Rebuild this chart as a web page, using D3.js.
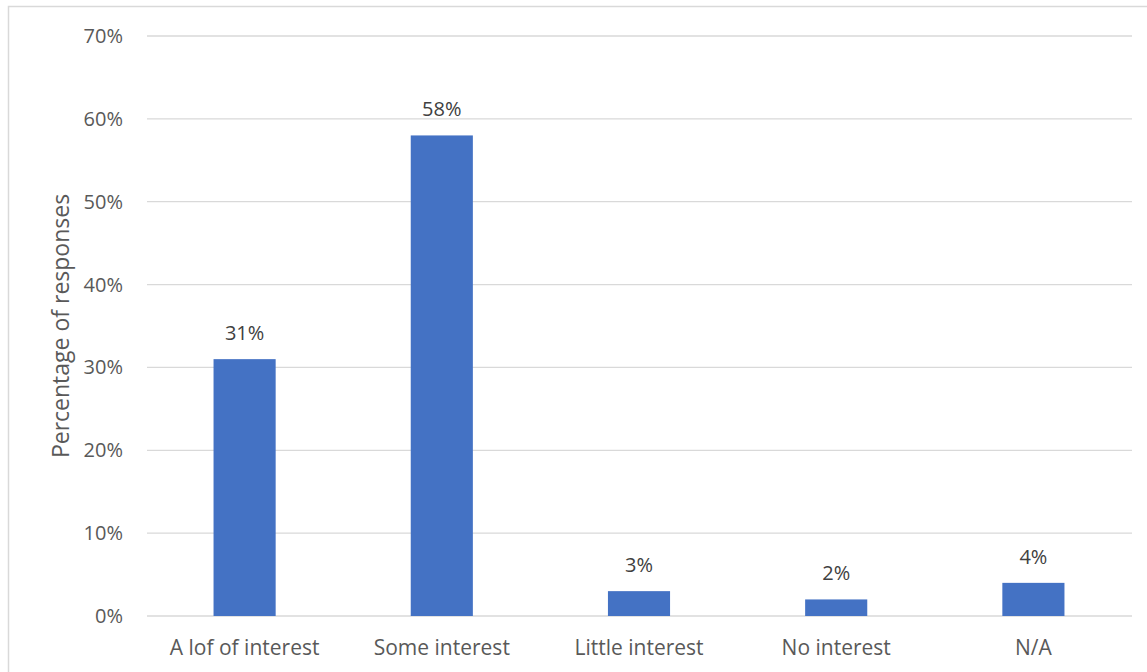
<!DOCTYPE html>
<html>
<head>
<meta charset="utf-8">
<script src="https://cdn.jsdelivr.net/npm/d3@7"></script>
<style>
  body { margin: 0; background: #fff; }
  svg { display: block; font-family: "Open Sans", "Liberation Sans", sans-serif; }
</style>
</head>
<body>
<svg id="chart" width="1147" height="672"></svg>
<script>
// Survey responses: level of interest
const categories = ["A lof of interest", "Some interest", "Little interest", "No interest", "N/A"];
const values = [31, 58, 3, 2, 4];
const yTicks = [0, 10, 20, 30, 40, 50, 60, 70];

const svg = d3.select("#chart");
const W = 1147, H = 672;
const plot = { left: 146, right: 1132, top: 36, bottom: 616 };

// Outer chart frame
svg.append("rect")
  .attr("x", 8.5).attr("y", 6.5)
  .attr("width", W + 10).attr("height", H + 10)
  .attr("fill", "none").attr("stroke", "#d9d9d9").attr("stroke-width", 1.5);

const x = d3.scaleBand().domain(categories).range([plot.left, plot.right]).paddingInner(0.685).paddingOuter(0.3425);
const y = d3.scaleLinear().domain([0, 70]).range([plot.bottom, plot.top]);

// Horizontal gridlines
svg.append("g").selectAll("line").data(yTicks).join("line")
  .attr("x1", plot.left + 1).attr("x2", plot.right)
  .attr("y1", d => y(d)).attr("y2", d => y(d))
  .attr("stroke", "#d9d9d9").attr("stroke-width", 1.3);

// Y tick labels
svg.append("g").selectAll("text").data(yTicks).join("text")
  .attr("x", 123).attr("y", d => y(d))
  .attr("dy", "0.35em")
  .attr("text-anchor", "end")
  .attr("font-size", 20).attr("fill", "#595959")
  .text(d => d + "%");

// Bars
svg.append("g").selectAll("rect").data(values).join("rect")
  .attr("x", (d, i) => x(categories[i]))
  .attr("width", x.bandwidth())
  .attr("y", d => y(d))
  .attr("height", d => y(0) - y(d))
  .attr("fill", "#4472c4");

// Value labels
svg.append("g").selectAll("text").data(values).join("text")
  .attr("x", (d, i) => x(categories[i]) + x.bandwidth() / 2)
  .attr("y", d => y(d) - 19)
  .attr("text-anchor", "middle")
  .attr("font-size", 20).attr("fill", "#404040")
  .text(d => d + "%");

// Category labels
svg.append("g").selectAll("text").data(categories).join("text")
  .attr("x", d => x(d) + x.bandwidth() / 2)
  .attr("y", 655)
  .attr("text-anchor", "middle")
  .attr("font-size", 21).attr("fill", "#595959")
  .text(d => d);

// Y axis title
svg.append("text")
  .attr("transform", `translate(69,${(plot.top + plot.bottom) / 2}) rotate(-90)`)
  .attr("text-anchor", "middle")
  .attr("font-size", 23).attr("fill", "#595959")
  .text("Percentage of responses");
</script>
</body>
</html>
